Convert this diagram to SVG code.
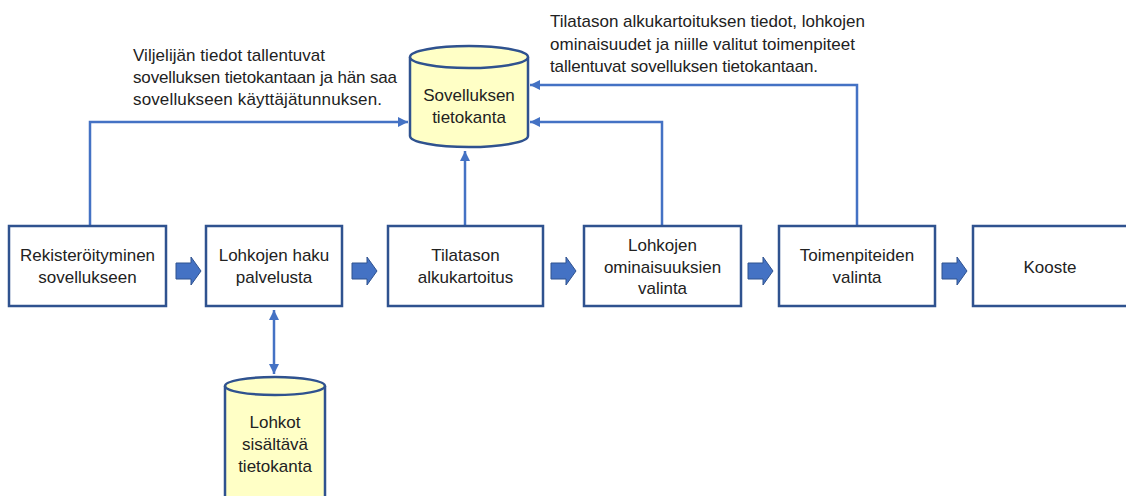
<svg xmlns="http://www.w3.org/2000/svg" width="1126" height="496" viewBox="0 0 1126 496">
<defs>
<style>
.box{fill:#fff;stroke:#2F528F;stroke-width:2.5}
.cyl{fill:#FFFFC6;stroke:#2F528F;stroke-width:2.5}
.t{font-family:"Liberation Sans",Arial,sans-serif;font-size:17px;fill:#222;text-anchor:middle}
.a{font-family:"Liberation Sans",Arial,sans-serif;font-size:17px;fill:#222}
.c{fill:none;stroke:#4472C4;stroke-width:2.5}
.blk{fill:#4472C4;stroke:#2F528F;stroke-width:1}
</style>
<marker id="ah" viewBox="0 0 10 10" refX="10" refY="5" markerWidth="4" markerHeight="4" orient="auto-start-reverse" markerUnits="strokeWidth">
<path d="M0,0 L10,5 L0,10 z" fill="#4472C4"/>
</marker>
<path id="blk" d="M0,6 H15 V0 L25,14 L15,28 V22 H0 z"/>
</defs>
<rect width="1126" height="496" fill="#fff"/>

<g id="connectors">
<path class="c" d="M90,226 V122 H408" marker-end="url(#ah)"/>
<path class="c" d="M465,226 V151" marker-end="url(#ah)"/>
<path class="c" d="M662,226 V122 H530" marker-end="url(#ah)"/>
<path class="c" d="M857,226 V85 H530" marker-end="url(#ah)"/>
<path class="c" d="M274,310 V374" marker-start="url(#ah)" marker-end="url(#ah)"/>
<use href="#blk" class="blk" x="176" y="257"/>
<use href="#blk" class="blk" x="352" y="257"/>
<use href="#blk" class="blk" x="551" y="257"/>
<use href="#blk" class="blk" x="748" y="257"/>
<use href="#blk" class="blk" x="942" y="257"/>
</g>

<g id="db-app">
<path class="cyl" d="M410,57 V136 A59,11 0 0 0 528,136 V57"/>
<ellipse class="cyl" cx="469" cy="57" rx="59" ry="11"/>
<text class="t" x="469" y="101">Sovelluksen</text>
<text class="t" x="469" y="123">tietokanta</text>
</g>

<g id="db-lohkot">
<path class="cyl" d="M225,386 V500 H325 V386"/>
<ellipse class="cyl" cx="275" cy="386" rx="50" ry="9"/>
<text class="t" x="275" y="428">Lohkot</text>
<text class="t" x="275" y="450">sisältävä</text>
<text class="t" x="275" y="472">tietokanta</text>
</g>

<g id="n1">
<rect class="box" x="9" y="226" width="157" height="80"/>
<text class="t" x="87.5" y="261">Rekisteröityminen</text>
<text class="t" x="87.5" y="283">sovellukseen</text>
</g>
<g id="n2">
<rect class="box" x="206" y="226" width="136" height="80"/>
<text class="t" x="274" y="261">Lohkojen haku</text>
<text class="t" x="274" y="283">palvelusta</text>
</g>
<g id="n3">
<rect class="box" x="388" y="226" width="155" height="80"/>
<text class="t" x="465.5" y="261">Tilatason</text>
<text class="t" x="465.5" y="283">alkukartoitus</text>
</g>
<g id="n4">
<rect class="box" x="584" y="226" width="157" height="80"/>
<text class="t" x="662.5" y="251">Lohkojen</text>
<text class="t" x="662.5" y="273">ominaisuuksien</text>
<text class="t" x="662.5" y="294">valinta</text>
</g>
<g id="n5">
<rect class="box" x="779" y="226" width="156" height="80"/>
<text class="t" x="857" y="261">Toimenpiteiden</text>
<text class="t" x="857" y="283">valinta</text>
</g>
<g id="n6">
<rect class="box" x="973" y="226" width="160" height="80"/>
<text class="t" x="1050" y="273">Kooste</text>
</g>

<g id="notes">
<text class="a" x="133" y="61" textLength="192">Viljelijän tiedot tallentuvat</text>
<text class="a" x="133" y="83" textLength="264">sovelluksen tietokantaan ja hän saa</text>
<text class="a" x="133" y="105" textLength="249">sovellukseen käyttäjätunnuksen.</text>
<text class="a" x="550" y="27" textLength="315">Tilatason alkukartoituksen tiedot, lohkojen</text>
<text class="a" x="550" y="50" textLength="305">ominaisuudet ja niille valitut toimenpiteet</text>
<text class="a" x="550" y="72" textLength="268">tallentuvat sovelluksen tietokantaan.</text>
</g>
</svg>
